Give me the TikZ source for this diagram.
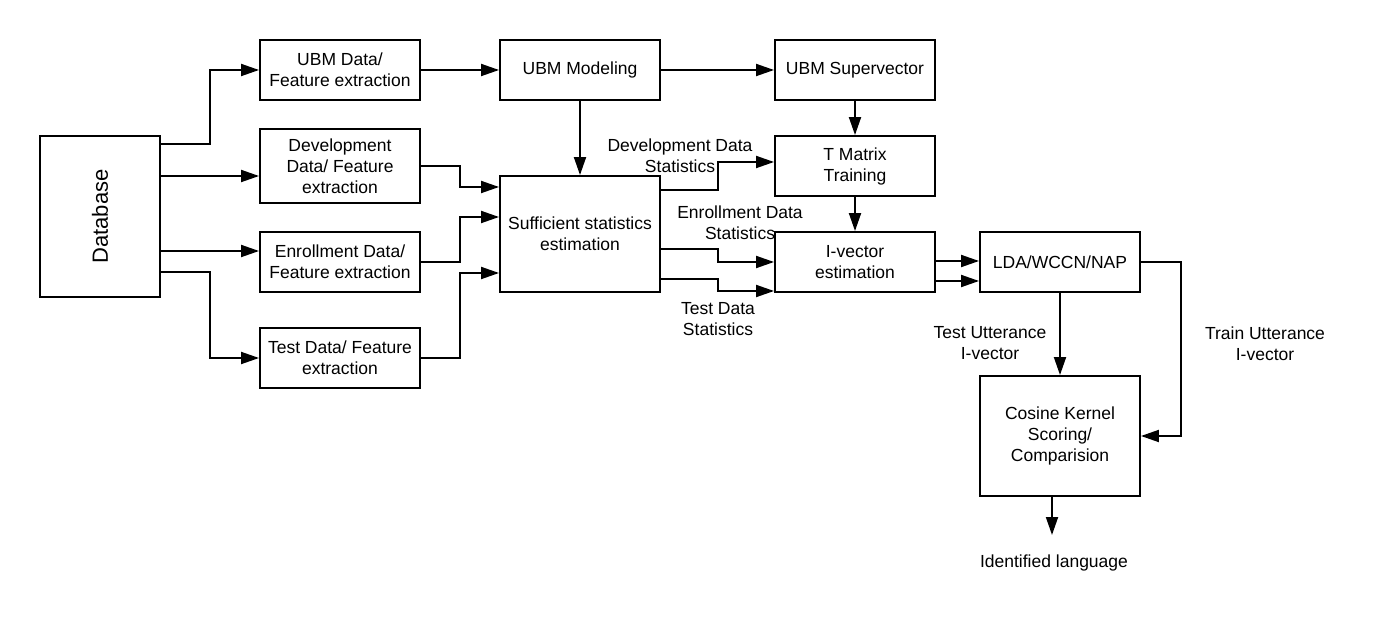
\documentclass[tikz,border=0pt]{standalone}
\usepackage{fontspec}
\setmainfont{Liberation Sans}
\usetikzlibrary{arrows.meta,positioning}

\tikzset{
  blk/.style={draw,line width=1.9pt,minimum width=160pt,minimum height=60pt,align=center,inner sep=2pt},
  lbl/.style={align=center,inner sep=0pt},
  flow/.style={line width=1.9pt,-{Triangle[length=18pt,width=12pt]}}
}

\begin{document}
\begin{tikzpicture}[x=1pt,y=-1pt,font=\fontsize{17.5}{21}\selectfont]
  \useasboundingbox (0,0) rectangle (1395,636);
  % Blocks
  \node[blk,minimum width=120pt,minimum height=161pt] (db) at (100,216.5) {\rotatebox{90}{\fontsize{22}{26}\selectfont Database}};
  \node[blk] (ubmdata) at (340,70) {UBM Data/\\Feature extraction};
  \node[blk,minimum height=74pt] (devdata) at (340,166) {Development\\Data/ Feature\\extraction};
  \node[blk] (enrdata) at (340,262) {Enrollment Data/\\Feature extraction};
  \node[blk] (tstdata) at (340,358) {Test Data/ Feature\\extraction};
  \node[blk] (ubmmod) at (580,70) {UBM Modeling};
  \node[blk,minimum height=116pt] (suff) at (580,234) {Sufficient statistics\\estimation};
  \node[blk] (ubmsv) at (855,70) {UBM Supervector};
  \node[blk] (tmat) at (855,166) {T Matrix\\Training};
  \node[blk] (ivec) at (855,262) {I-vector\\estimation};
  \node[blk] (lda) at (1060,262) {LDA/WCCN/NAP};
  \node[blk,minimum height=120pt] (cosine) at (1060,436) {Cosine Kernel\\Scoring/\\Comparision};
  \node[lbl] (ident) at (1054,563) {Identified language};
  \coordinate (langout) at (1052,535);
  % Labels
  \node[lbl] (devstat) at (680,156) {Development Data\\Statistics};
  \node[lbl] (enrstat) at (740,222.5) {Enrollment Data\\Statistics};
  \node[lbl] (tststat) at (718,319) {Test Data\\Statistics};
  \node[lbl] (tstutt) at (990,343.5) {Test Utterance\\I-vector};
  \node[lbl] (trnutt) at (1265,343.5) {Train Utterance\\I-vector};
  % Database to feature extraction
  \draw[flow] (db.east |- 0,144) -- (210,144) |- (ubmdata.west);
  \draw[flow] (db.east |- 0,176) -- (devdata.west |- 0,176);
  \draw[flow] (db.east |- 0,251) -- (enrdata.west |- 0,251);
  \draw[flow] (db.east |- 0,272) -- (210,272) |- (tstdata.west);
  % Feature extraction to models
  \draw[flow] (ubmdata) -- (ubmmod);
  \draw[flow] (devdata.east) -- (460,166) |- (suff.west |- 0,187);
  \draw[flow] (enrdata.east) -- (460,262) |- (suff.west |- 0,217);
  \draw[flow] (tstdata.east) -- (460,358) |- (suff.west |- 0,273);
  \draw[flow] (ubmmod) -- (ubmsv);
  \draw[flow] (ubmmod) -- (suff);
  \draw[flow] (ubmsv) -- (tmat);
  \draw[flow] (tmat) -- (ivec);
  % Statistics
  \draw[flow] (suff.east |- 0,190) -- (718,190) |- (tmat.west |- 0,162);
  \draw[flow] (suff.east |- 0,249) -- (718,249) |- (ivec.west |- 0,262);
  \draw[flow] (suff.east |- 0,279) -- (718,279) |- (ivec.west |- 0,291);
  % Back end
  \foreach \y in {261,281}{\draw[flow] (ivec.east |- 0,\y) -- (lda.west |- 0,\y);}
  \draw[flow] (lda) -- (cosine);
  \draw[flow] (lda.east) -- (1181,262) |- (cosine.east);
  \draw[flow] (cosine.south -| langout) -- (langout);
\end{tikzpicture}
\end{document}
